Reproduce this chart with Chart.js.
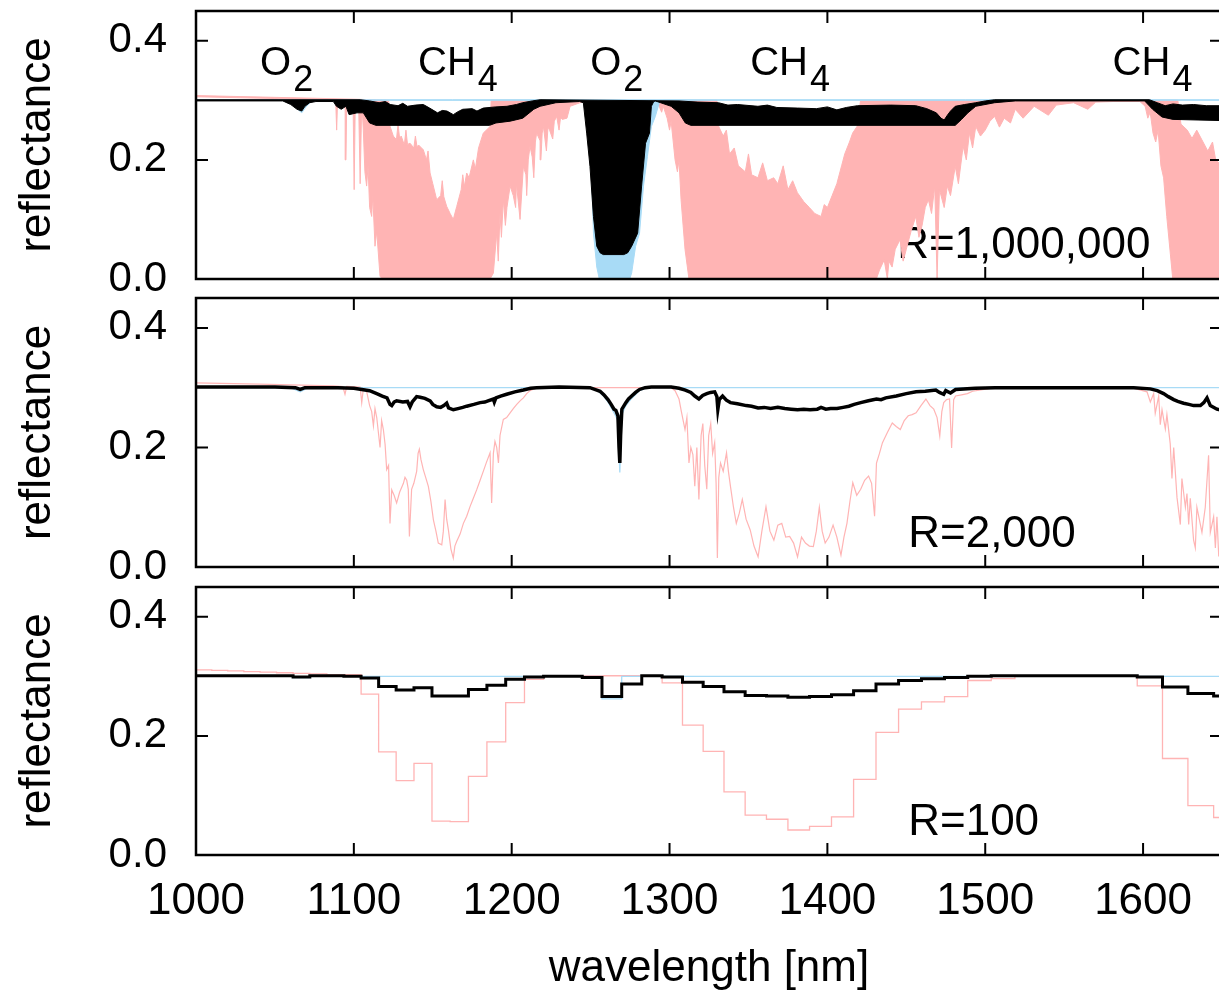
<!DOCTYPE html>
<html>
<head>
<meta charset="utf-8">
<script src="https://cdn.jsdelivr.net/npm/chart.js@4.4.1/dist/chart.umd.min.js"></script>
<style>
html,body{margin:0;padding:0;background:#fff;overflow:hidden;width:1219px;height:998px;}
canvas{position:absolute;left:0;}
</style>
</head>
<body>
<canvas id="c1" width="1222" height="300" style="top:0px"></canvas>
<canvas id="c2" width="1222" height="300" style="top:288px"></canvas>
<canvas id="c3" width="1222" height="421" style="top:577px"></canvas>
<script>
// ---------------- DATA ----------------
// Panel 1 (R = 1,000,000): envelopes of the dense line forest, [wavelength nm, reflectance]
const hiresBlackUpper = [[1000,0.301],[1104,0.301],[1110,0.299],[1116,0.296],[1120,0.298],[1123,0.293],[1128,0.291],[1131,0.295],[1134,0.290],[1139,0.292],[1144,0.293],[1148,0.287],[1153,0.279],[1156,0.283],[1159,0.282],[1163,0.276],[1166,0.281],[1169,0.285],[1175,0.286],[1178,0.282],[1182,0.287],[1190,0.289],[1197,0.290],[1203,0.293],[1207,0.296],[1213,0.299],[1218,0.301],[1306,0.299],[1318,0.297],[1331,0.296],[1337,0.292],[1343,0.293],[1356,0.290],[1362,0.292],[1368,0.288],[1381,0.287],[1393,0.286],[1400,0.289],[1406,0.284],[1412,0.288],[1419,0.291],[1440,0.292],[1456,0.291],[1463,0.286],[1469,0.279],[1472,0.270],[1474,0.267],[1476,0.275],[1478,0.282],[1481,0.290],[1487,0.293],[1494,0.296],[1500,0.299],[1506,0.301],[1604,0.301],[1609,0.296],[1614,0.291],[1619,0.294],[1625,0.292],[1632,0.293],[1640,0.291],[1650,0.291]];
const hiresBlackLower = [[1000,0.299],[1055,0.299],[1060,0.293],[1064,0.285],[1067,0.282],[1069,0.290],[1072,0.296],[1076,0.298],[1087,0.298],[1089,0.290],[1092,0.285],[1095,0.290],[1097,0.276],[1102,0.279],[1106,0.279],[1110,0.262],[1114,0.258],[1186,0.258],[1190,0.262],[1199,0.265],[1207,0.270],[1214,0.285],[1218,0.290],[1228,0.296],[1243,0.298],[1245.4,0.296],[1247.5,0.245],[1249.6,0.189],[1251.8,0.105],[1253.9,0.055],[1256,0.044],[1258,0.041],[1271,0.041],[1273.5,0.044],[1276,0.055],[1279.8,0.077],[1282.3,0.156],[1284.8,0.228],[1287.3,0.245],[1288.5,0.290],[1290,0.298],[1291,0.299],[1301,0.290],[1306,0.279],[1310,0.262],[1313.5,0.258],[1481,0.258],[1485,0.268],[1489,0.279],[1494,0.290],[1506,0.296],[1519,0.299],[1601,0.299],[1606,0.285],[1612,0.272],[1619,0.268],[1650,0.266]];
const hiresBlueUpper = [[1000,0.301],[1650,0.301]];
const hiresBlueLower = [[1000,0.300],[1058,0.300],[1063,0.288],[1067,0.279],[1070,0.290],[1074,0.300],[1247,0.300],[1249.6,0.260],[1251.8,0.077],[1253.9,0.020],[1255.5,0.000],[1274.8,0.000],[1276,0.010],[1278.5,0.055],[1281,0.077],[1283.5,0.156],[1286,0.206],[1288.5,0.256],[1291,0.273],[1293.5,0.296],[1296,0.300],[1650,0.300]];
const hiresPinkUpper = [[1000,0.308],[1050,0.305],[1100,0.302],[1122,0.300],[1123,0.256],[1125,0.240],[1127,0.234],[1128,0.260],[1129,0.236],[1130,0.240],[1132,0.225],[1133,0.250],[1134,0.226],[1135.6,0.228],[1138,0.220],[1139,0.240],[1140,0.222],[1141,0.225],[1144,0.217],[1146,0.200],[1147,0.215],[1148.3,0.178],[1150,0.160],[1152.5,0.133],[1155,0.140],[1156,0.165],[1157,0.138],[1158.8,0.122],[1161,0.110],[1163,0.100],[1165.2,0.122],[1168,0.150],[1169,0.175],[1170,0.155],[1171.5,0.178],[1173,0.170],[1175.7,0.200],[1177,0.185],[1179,0.220],[1182,0.245],[1186.3,0.256],[1187,0.300],[1330,0.300],[1331,0.257],[1334,0.240],[1336,0.250],[1338,0.210],[1341,0.220],[1343.6,0.190],[1348,0.180],[1350,0.210],[1352,0.175],[1356,0.170],[1359,0.195],[1362,0.165],[1366,0.170],[1368.6,0.160],[1372,0.190],[1375,0.150],[1378,0.165],[1381,0.145],[1385,0.130],[1388.6,0.120],[1392,0.110],[1396,0.105],[1398,0.125],[1400,0.120],[1403,0.140],[1406,0.160],[1409,0.190],[1411,0.210],[1414,0.230],[1416,0.245],[1419,0.257],[1421,0.300],[1622,0.300],[1624,0.260],[1628,0.250],[1631,0.236],[1634,0.250],[1637,0.235],[1641,0.215],[1644,0.230],[1646,0.200],[1650,0.190]];
const hiresPinkLower = [[1000,0.306],[1050,0.303],[1088.5,0.300],[1089.1,0.250],[1089.7,0.300],[1094.5,0.300],[1095,0.200],[1095.5,0.300],[1099.5,0.300],[1100.2,0.150],[1100.9,0.300],[1103,0.300],[1104,0.160],[1105,0.300],[1106,0.250],[1107,0.180],[1108.1,0.156],[1109,0.190],[1110,0.120],[1111.3,0.105],[1112,0.140],[1113.4,0.055],[1114.5,0.080],[1116.6,0.004],[1118.7,0.000],[1186.3,0.000],[1188.4,0.010],[1190.5,0.077],[1191.5,0.030],[1192.6,0.110],[1193.5,0.070],[1194.7,0.133],[1196,0.090],[1197,0.120],[1199,0.156],[1201,0.140],[1202.5,0.120],[1203,0.160],[1205.3,0.100],[1207.4,0.189],[1209,0.175],[1209.5,0.140],[1210.5,0.200],[1211.6,0.223],[1213,0.205],[1214,0.170],[1215,0.230],[1215.8,0.245],[1218,0.232],[1218.5,0.200],[1219.3,0.245],[1220.1,0.256],[1222,0.215],[1223,0.255],[1224,0.250],[1226,0.235],[1227,0.265],[1228.5,0.273],[1230,0.250],[1231,0.272],[1232,0.268],[1235,0.270],[1237,0.290],[1243.3,0.296],[1250,0.300],[1291,0.300],[1293.5,0.290],[1295,0.280],[1296,0.290],[1298.5,0.270],[1300,0.250],[1301,0.265],[1303.5,0.200],[1305,0.180],[1306,0.200],[1307.3,0.133],[1309.8,0.050],[1312.3,0.000],[1431,0.000],[1433,0.015],[1436,0.032],[1438,0.000],[1439,0.030],[1441,0.020],[1443,0.050],[1446,0.066],[1448,0.030],[1450,0.050],[1453,0.080],[1456,0.105],[1458,0.070],[1460,0.090],[1462,0.120],[1464,0.133],[1466,0.110],[1468,0.156],[1469.5,0.000],[1471,0.150],[1474,0.120],[1476,0.156],[1478,0.140],[1481,0.189],[1483,0.160],[1486,0.223],[1488,0.200],[1490,0.245],[1492,0.220],[1494,0.256],[1497,0.240],[1500,0.250],[1503,0.265],[1506,0.273],[1509,0.255],[1512,0.270],[1516,0.262],[1519,0.285],[1524,0.270],[1531,0.290],[1540,0.275],[1545,0.292],[1556,0.296],[1565,0.285],[1570,0.297],[1581,0.298],[1598,0.298],[1601.3,0.290],[1603,0.270],[1604.5,0.280],[1606.3,0.245],[1608,0.230],[1609.5,0.250],[1611.3,0.190],[1613,0.170],[1615,0.105],[1618.8,0.000],[1650,0.000]];

// Panel 2 (R = 2,000)
const r2000Black = [[1000,0.301],[1050,0.301],[1063,0.300],[1066,0.297],[1069,0.300],[1090,0.300],[1100,0.299],[1105,0.297],[1110,0.295],[1114.5,0.290],[1118,0.286],[1121,0.283],[1122.9,0.272],[1124,0.270],[1125.5,0.276],[1127.1,0.278],[1131,0.276],[1134,0.277],[1135.6,0.268],[1137,0.276],[1139.8,0.285],[1142,0.284],[1145,0.282],[1148.3,0.278],[1150,0.272],[1152.5,0.268],[1155,0.267],[1157,0.270],[1158.8,0.274],[1160,0.266],[1163,0.263],[1166,0.265],[1169,0.267],[1171.5,0.269],[1176,0.272],[1180,0.275],[1183,0.276],[1185,0.278],[1188.4,0.281],[1189,0.276],[1190,0.283],[1193,0.286],[1196.8,0.289],[1202,0.293],[1207.4,0.296],[1212,0.299],[1215.8,0.300],[1230,0.301],[1249.6,0.300],[1253.9,0.296],[1256,0.294],[1258.5,0.288],[1261,0.280],[1263,0.272],[1264.8,0.264],[1266,0.262],[1267.3,0.253],[1268,0.200],[1268.5,0.174],[1269,0.220],[1269.8,0.264],[1272.3,0.275],[1274,0.281],[1276,0.286],[1278.5,0.292],[1281,0.297],[1284.5,0.300],[1288.5,0.301],[1301,0.301],[1306,0.299],[1310,0.296],[1313.5,0.292],[1316,0.286],[1318.6,0.281],[1321,0.287],[1323.6,0.290],[1326,0.292],[1328.6,0.293],[1330,0.285],[1330.6,0.264],[1331.5,0.280],[1333.6,0.286],[1336,0.279],[1338.6,0.275],[1343,0.273],[1348.6,0.270],[1352,0.269],[1356.1,0.266],[1360,0.267],[1364,0.265],[1368.6,0.267],[1373,0.265],[1377,0.264],[1381.1,0.263],[1385,0.264],[1389,0.263],[1393.6,0.264],[1396,0.267],[1399,0.264],[1402,0.265],[1406.1,0.265],[1410,0.267],[1413.6,0.269],[1417,0.272],[1421.1,0.275],[1426,0.278],[1431.1,0.281],[1434,0.280],[1437,0.283],[1443.7,0.286],[1450,0.290],[1456.2,0.293],[1462,0.294],[1468.7,0.296],[1471,0.292],[1473.7,0.289],[1475,0.295],[1478,0.291],[1481.2,0.297],[1493.7,0.299],[1506.2,0.300],[1594,0.300],[1604.6,0.298],[1609,0.295],[1613,0.290],[1616,0.285],[1619.4,0.280],[1622,0.277],[1625.7,0.274],[1629,0.272],[1632,0.270],[1636.3,0.270],[1638.5,0.275],[1640.5,0.283],[1642.6,0.270],[1646.8,0.264],[1650,0.262]];
const r2000Blue = [[1000,0.300],[1060,0.300],[1066,0.293],[1071,0.300],[1250,0.300],[1254,0.296],[1258.5,0.285],[1261,0.276],[1264.8,0.258],[1267.3,0.245],[1268.5,0.158],[1269.8,0.255],[1272.3,0.270],[1276,0.282],[1281,0.295],[1286,0.300],[1650,0.300]];
const r2000Pink = [[1000,0.308],[1040,0.306],[1087,0.303],[1093,0.302],[1094.4,0.289],[1095.5,0.302],[1104,0.301],[1105,0.275],[1106,0.298],[1108,0.295],[1110,0.270],[1111.3,0.260],[1112.4,0.236],[1113.4,0.265],[1114.5,0.250],[1116.6,0.200],[1117.6,0.245],[1118.7,0.230],[1119.8,0.205],[1120.8,0.163],[1122,0.170],[1122.9,0.073],[1124,0.129],[1125.5,0.120],[1127.1,0.107],[1129,0.125],[1131.4,0.140],[1132.4,0.150],[1133.5,0.145],[1134.5,0.130],[1135.2,0.051],[1136.6,0.130],[1138,0.140],[1139.8,0.160],[1140.7,0.190],[1141.5,0.197],[1142.5,0.180],[1144,0.163],[1145.5,0.150],[1147.2,0.135],[1148.8,0.110],[1150.4,0.079],[1152,0.060],[1153.5,0.040],[1155.7,0.037],[1156.7,0.060],[1157.8,0.113],[1158.8,0.080],[1159.9,0.062],[1161.5,0.030],[1163,0.015],[1164,0.035],[1165.2,0.043],[1167.3,0.055],[1169.4,0.073],[1171.5,0.085],[1173.6,0.101],[1175.7,0.115],[1177.8,0.129],[1180,0.145],[1182,0.160],[1184,0.175],[1186.3,0.191],[1187.3,0.107],[1188.4,0.190],[1189.4,0.210],[1190.5,0.200],[1191.6,0.174],[1192.6,0.220],[1194.7,0.247],[1196.8,0.250],[1199,0.258],[1201,0.265],[1203.2,0.272],[1205.3,0.278],[1207.4,0.283],[1209.5,0.290],[1211.6,0.295],[1215.8,0.300],[1301,0.300],[1303.5,0.295],[1306,0.281],[1307.5,0.260],[1309.8,0.230],[1311,0.250],[1312.3,0.174],[1313.5,0.200],[1314.8,0.188],[1316,0.135],[1317.3,0.200],[1318.6,0.113],[1320,0.220],[1321.1,0.240],[1322.3,0.170],[1323.6,0.130],[1324.8,0.220],[1326.1,0.240],[1327.3,0.190],[1328.6,0.208],[1329.5,0.140],[1330.3,0.015],[1331.2,0.150],[1332.3,0.174],[1334,0.160],[1336.1,0.191],[1337.3,0.160],[1338.6,0.135],[1340.5,0.100],[1342.3,0.073],[1344.2,0.090],[1346.1,0.113],[1348.5,0.080],[1351.1,0.062],[1353.5,0.035],[1356.1,0.017],[1358.5,0.060],[1361.1,0.101],[1363.6,0.060],[1366.1,0.045],[1368.6,0.070],[1371.1,0.073],[1373.6,0.050],[1376.1,0.051],[1378.6,0.040],[1381.1,0.017],[1383.6,0.050],[1386.1,0.040],[1388.6,0.035],[1391.1,0.034],[1393,0.060],[1394.9,0.100],[1396.7,0.060],[1398.6,0.040],[1401,0.050],[1403.6,0.070],[1406,0.050],[1408.6,0.020],[1410.5,0.050],[1412.4,0.073],[1414.3,0.110],[1416.1,0.141],[1418.6,0.120],[1421.1,0.130],[1423.6,0.145],[1426.1,0.152],[1428,0.140],[1429.9,0.085],[1431.1,0.174],[1433,0.190],[1434.9,0.208],[1438,0.225],[1441.1,0.241],[1443.6,0.235],[1446.2,0.230],[1448.7,0.245],[1451.2,0.253],[1453.7,0.255],[1456.2,0.258],[1459.3,0.270],[1462.4,0.281],[1465,0.270],[1467.4,0.264],[1469.5,0.250],[1471.2,0.219],[1472.5,0.260],[1473.7,0.275],[1475.5,0.280],[1477.4,0.281],[1478.7,0.199],[1480,0.280],[1481.2,0.286],[1485,0.288],[1488.7,0.290],[1492,0.294],[1496.2,0.296],[1506.2,0.300],[1594,0.299],[1602.5,0.293],[1604.6,0.276],[1606.7,0.290],[1607.7,0.257],[1609.9,0.286],[1610.9,0.238],[1612,0.263],[1614.1,0.231],[1615.1,0.255],[1617.2,0.206],[1618.3,0.148],[1619.4,0.200],[1621.5,0.116],[1623.6,0.071],[1624.6,0.148],[1626.8,0.100],[1627.8,0.123],[1628.9,0.071],[1629.9,0.115],[1632,0.045],[1633.1,0.032],[1634.1,0.100],[1636.3,0.071],[1637.3,0.058],[1639.4,0.100],[1641.5,0.187],[1642.6,0.058],[1644.7,0.084],[1645.8,0.032],[1646.8,0.084],[1647.9,0.020],[1650,0.030]];

// Panel 3 (R = 100): bin edges (nm) and one value per bin
const r100BinEdges = [1000,1010,1020.1,1030.3,1040.6,1051,1061.5,1072.1,1082.9,1093.7,1104.6,1115.7,1126.8,1138.1,1149.5,1161,1172.6,1184.3,1196.2,1208.1,1220.2,1232.4,1244.7,1257.2,1269.7,1282.4,1295.3,1308.2,1321.3,1334.5,1347.9,1361.4,1375,1388.7,1402.6,1416.6,1430.8,1445.1,1459.6,1474.2,1488.9,1503.8,1518.8,1534,1549.4,1564.9,1580.5,1596.3,1612.3,1628.4,1644.7,1661.1];
const r100Black = [0.301,0.301,0.301,0.301,0.301,0.301,0.299,0.301,0.301,0.300,0.297,0.283,0.277,0.281,0.267,0.267,0.278,0.285,0.295,0.299,0.300,0.300,0.298,0.266,0.287,0.301,0.299,0.290,0.283,0.274,0.268,0.267,0.265,0.266,0.269,0.276,0.287,0.293,0.296,0.298,0.300,0.301,0.301,0.301,0.301,0.301,0.301,0.299,0.282,0.271,0.267];
const r100Pink = [0.311,0.310,0.309,0.308,0.307,0.306,0.305,0.304,0.303,0.303,0.270,0.173,0.125,0.154,0.057,0.056,0.132,0.190,0.256,0.295,0.301,0.301,0.301,0.301,0.301,0.300,0.289,0.218,0.174,0.106,0.067,0.060,0.042,0.048,0.064,0.127,0.206,0.245,0.257,0.266,0.293,0.296,0.300,0.300,0.300,0.300,0.300,0.284,0.162,0.083,0.063];
const r100Blue = [0.300,0.300,0.300,0.300,0.300,0.300,0.298,0.300,0.300,0.300,0.300,0.300,0.300,0.300,0.300,0.300,0.300,0.300,0.300,0.300,0.300,0.300,0.300,0.262,0.300,0.300,0.300,0.300,0.300,0.300,0.300,0.300,0.300,0.300,0.300,0.300,0.300,0.300,0.300,0.300,0.300,0.300,0.300,0.300,0.300,0.300,0.300,0.300,0.300,0.300,0.300];

// Tick labels / texts
const yTickValues = [0.0, 0.2, 0.4];
const xTickValues = [1000, 1100, 1200, 1300, 1400, 1500, 1600];
const yTitle = 'reflectance';
const xTitle = 'wavelength [nm]';
const bandNames = [['O','2'],['CH','4'],['O','2'],['CH','4'],['CH','4']];
const resolutionLabels = ['R=1,000,000', 'R=2,000', 'R=100'];

// ---------------- STYLE / HELPERS ----------------
const FONT = "'Liberation Sans', Arial, Helvetica, sans-serif";
const BLACK = '#000000', PINK = '#ffb4b4', BLUE = '#a8dbf6';

const pts = arr => arr.map(p => ({x: p[0], y: p[1]}));
// closed outline: upper envelope left->right, then lower envelope right->left
const band = (upper, lower) => pts(upper.concat(lower.slice().reverse()));
const binPts = vals => {
  const out = vals.map((v, i) => ({x: r100BinEdges[i], y: v}));
  out.push({x: r100BinEdges[vals.length], y: vals[vals.length - 1]});
  return out;
};

const framePlugin = {
  id: 'frame',
  afterDatasetsDraw(chart) {
    const {ctx, chartArea: a, scales: {x, y}} = chart;
    ctx.save();
    ctx.strokeStyle = '#000';
    ctx.lineWidth = 2;
    ctx.beginPath();
    xTickValues.forEach(v => {
      const px = x.getPixelForValue(v);
      ctx.moveTo(px, a.bottom); ctx.lineTo(px, a.bottom - 12);
      ctx.moveTo(px, a.top); ctx.lineTo(px, a.top + 12);
    });
    yTickValues.forEach(v => {
      const py = y.getPixelForValue(v);
      ctx.moveTo(a.left, py); ctx.lineTo(a.left + 12, py);
      ctx.moveTo(a.right, py); ctx.lineTo(a.right - 12, py);
    });
    ctx.stroke();
    ctx.lineWidth = 2.5;
    ctx.strokeRect(a.left, a.top, a.right - a.left, a.bottom - a.top);
    ctx.restore();
  }
};

function textPlugin(items) {
  return {
    id: 'texts',
    beforeDatasetsDraw(chart) {
      const {ctx, scales: {x, y}} = chart;
      ctx.save();
      ctx.fillStyle = '#000';
      ctx.textAlign = 'left';
      ctx.textBaseline = 'alphabetic';
      items.forEach(it => {
        const px = x.getPixelForValue(it.nm), py = y.getPixelForValue(it.v);
        ctx.font = it.size + 'px ' + FONT;
        ctx.fillText(it.text, px, py);
        if (it.sub) {
          const w = ctx.measureText(it.text).width;
          ctx.font = it.subSize + 'px ' + FONT;
          ctx.fillText(it.sub, px + w + 2, py + 16);
        }
      });
      ctx.restore();
    }
  };
}

function makeChart(id, datasets, cfg) {
  return new Chart(document.getElementById(id), {
    type: 'line',
    data: {datasets},
    options: {
      responsive: false,
      animation: false,
      devicePixelRatio: 1,
      layout: {padding: {top: cfg.padTop, right: 0, bottom: 0, left: 0}},
      plugins: {legend: {display: false}, tooltip: {enabled: false}},
      elements: {point: {radius: 0}, line: {tension: 0}},
      scales: {
        x: {
          type: 'linear', min: 1000, max: 1650,
          grid: {display: false, drawTicks: false}, border: {display: false},
          ticks: {display: cfg.showX, stepSize: 100, includeBounds: false, autoSkip: false, maxRotation: 0,
                  color: '#000', font: {family: FONT, size: 44}, padding: 20.6,
                  callback: v => String(v)},
          title: {display: cfg.showX, text: xTitle, color: '#000', font: {family: FONT, size: 44}, padding: {top: 0, bottom: 2.6}},
          afterFit: s => { s.height = cfg.xHeight; s.paddingLeft = 0; s.paddingRight = 0; }
        },
        y: {
          type: 'linear', min: 0, max: 0.45,
          grid: {display: false, drawTicks: false}, border: {display: false},
          ticks: {stepSize: 0.2, includeBounds: false, color: '#000', font: {family: FONT, size: 42}, padding: 29,
                  callback: v => Number(v).toFixed(1)},
          title: {display: true, text: yTitle, color: '#000', font: {family: FONT, size: 44}, padding: {top: 11.6, bottom: 0}},
          afterFit: s => { s.width = 196; s.paddingTop = 0; s.paddingBottom = 0; }
        }
      }
    },
    plugins: [framePlugin, textPlugin(cfg.texts)]
  });
}

const bandSet = (upper, lower, color) => ({data: band(upper, lower), borderColor: color, backgroundColor: color, borderWidth: 1, fill: 'shape', pointRadius: 0});

// Panel 1 (first dataset is drawn on top)
makeChart('c1', [
  bandSet(hiresBlackUpper, hiresBlackLower, BLACK),
  bandSet(hiresBlueUpper, hiresBlueLower, BLUE),
  bandSet(hiresPinkUpper, hiresPinkLower, PINK)
], {padTop: 11, xHeight: 21, showX: false, texts: [
  {text: bandNames[0][0], sub: bandNames[0][1], nm: 1040.6, v: 0.343, size: 40, subSize: 36},
  {text: bandNames[1][0], sub: bandNames[1][1], nm: 1140.7, v: 0.343, size: 40, subSize: 36},
  {text: bandNames[2][0], sub: bandNames[2][1], nm: 1249.7, v: 0.343, size: 40, subSize: 36},
  {text: bandNames[3][0], sub: bandNames[3][1], nm: 1351.1, v: 0.343, size: 40, subSize: 36},
  {text: bandNames[4][0], sub: bandNames[4][1], nm: 1580.7, v: 0.343, size: 40, subSize: 36},
  {text: resolutionLabels[0], nm: 1444.2, v: 0.036, size: 44}
]});

// Panel 2
makeChart('c2', [
  {data: pts(r2000Black), borderColor: BLACK, borderWidth: 3.5, fill: false, pointRadius: 0},
  {data: pts(r2000Blue), borderColor: BLUE, borderWidth: 1.3, fill: false, pointRadius: 0},
  {data: pts(r2000Pink), borderColor: PINK, borderWidth: 1.2, fill: false, pointRadius: 0}
], {padTop: 10, xHeight: 21, showX: false, texts: [
  {text: resolutionLabels[1], nm: 1451.2, v: 0.034, size: 44}
]});

// Panel 3
makeChart('c3', [
  {data: binPts(r100Black), borderColor: BLACK, borderWidth: 3, stepped: true, fill: false, pointRadius: 0},
  {data: binPts(r100Blue), borderColor: BLUE, borderWidth: 1.3, stepped: true, fill: false, pointRadius: 0},
  {data: binPts(r100Pink), borderColor: PINK, borderWidth: 1.3, stepped: true, fill: false, pointRadius: 0}
], {padTop: 10, xHeight: 143, showX: true, texts: [
  {text: resolutionLabels[2], nm: 1451.2, v: 0.034, size: 44}
]});
</script>
</body>
</html>
